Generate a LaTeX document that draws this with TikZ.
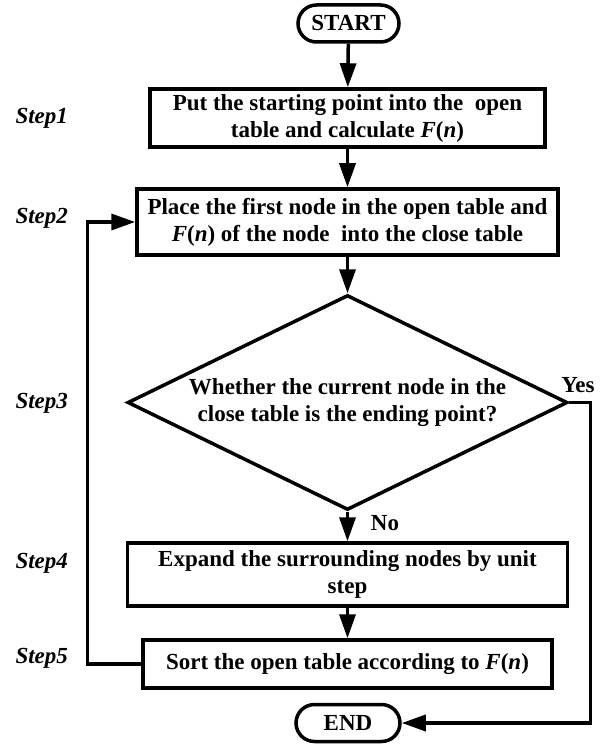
\documentclass[tikz,border=0pt]{standalone}
\usepackage{fontspec}
\setmainfont{Liberation Serif}
\usetikzlibrary{arrows.meta,shapes.geometric,shapes.misc}
\begin{document}
\begin{tikzpicture}[x=1pt,y=-1pt,
  every node/.style={font=\fontsize{23pt}{27pt}\selectfont\bfseries},
  box/.style={draw,line width=3.5pt,rectangle,align=center,inner sep=0pt},
  term/.style={draw,line width=3.5pt,rounded rectangle,minimum width=101pt,minimum height=37pt,inner sep=0pt},
  decision/.style={draw,line width=3.5pt,diamond,aspect=2.05,align=center,inner sep=0pt,minimum width=440pt,minimum height=215pt},
  steplabel/.style={anchor=west,font=\fontsize{23pt}{27pt}\selectfont\bfseries\itshape},
  conn/.style={line width=3.5pt,-{Triangle[length=24pt,width=16pt]}}
]
\fill[white] (0,0) rectangle (602,746);
\useasboundingbox (0,0) rectangle (602,746);

\node[term] (start) at (348.5,23.5) {START};
\node[box,minimum width=395pt,minimum height=58pt] (b1) at (347.5,118)
  {Put the starting point into the~ open\\table and calculate \textit{F}(\textit{n})};
\node[box,minimum width=421pt,minimum height=66pt] (b2) at (347.5,222)
  {Place the first node in the open table and\\\textit{F}(\textit{n}) of the node~ into the close table};
\node[decision] (dec) at (347.5,402.5)
  {Whether the current node in the\\close table is the ending point?};
\node[box,minimum width=440pt,minimum height=63pt] (b3) at (347.5,574.5)
  {Expand the surrounding nodes by unit\\step};
\node[box,minimum width=409pt,minimum height=48pt] (b4) at (347.5,664)
  {Sort the open table according to \textit{F}(\textit{n})};
\node[term,minimum width=104pt] (end) at (348,723) {END};

\node[steplabel] (s1) at (12,118) {Step1};
\node[steplabel] (s2) at (12,218) {Step2};
\node[steplabel] (s3) at (12,403) {Step3};
\node[steplabel] (s4) at (12,563) {Step4};
\node[steplabel] (s5) at (12,658) {Step5};

\node (yes) at (578,385) {Yes};
\node (no) at (385,523) {No};

\draw[conn] (start) -- (b1);
\draw[conn] (b1) -- (b2);
\draw[conn] (b2) -- (dec);
\draw[conn] (dec) -- (b3);
\draw[conn] (b3) -- (b4);
\draw[conn] (b4.west) -- ++(-54,0) |- (b2.west);
\draw[conn] (dec.east) -- ++(21,0) |- (end.east);
\end{tikzpicture}
\end{document}
